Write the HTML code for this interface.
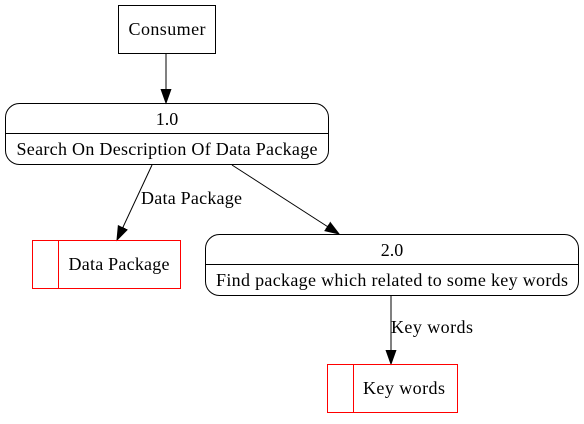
<!DOCTYPE html>
<html><head><style>body{margin:0;background:#fff}</style></head><body>
<svg width="584" height="419" xmlns="http://www.w3.org/2000/svg" font-family="Liberation Serif, serif" font-size="18">
<defs><marker id="a" markerWidth="16" markerHeight="12" refX="14" refY="6" orient="auto" markerUnits="userSpaceOnUse"><path d="M0,1 L14,6 L0,11z" fill="#000" stroke="#000"/></marker></defs>
<rect x="118.5" y="5.5" width="97" height="48" fill="none" stroke="#000"/>
<text x="167" y="35" text-anchor="middle" textLength="77">Consumer</text>
<line x1="166" y1="53" x2="166" y2="103" stroke="#000" marker-end="url(#a)"/>
<rect x="5.5" y="103.5" width="323" height="61" rx="14" fill="none" stroke="#000"/>
<line x1="5.5" y1="133.5" x2="328.5" y2="133.5" stroke="#000"/>
<text x="167" y="125" text-anchor="middle">1.0</text>
<text x="167" y="155" text-anchor="middle" textLength="301">Search On Description Of Data Package</text>
<line x1="152" y1="165" x2="117" y2="240" stroke="#000" marker-end="url(#a)"/>
<text x="141" y="204" textLength="101">Data Package</text>
<line x1="232" y1="165" x2="339" y2="234" stroke="#000" marker-end="url(#a)"/>
<rect x="32.5" y="240.5" width="148" height="48" fill="none" stroke="red"/>
<line x1="58.5" y1="240.5" x2="58.5" y2="288.5" stroke="red"/>
<text x="119" y="270" text-anchor="middle" textLength="101">Data Package</text>
<rect x="205.5" y="234.5" width="373" height="61" rx="14" fill="none" stroke="#000"/>
<line x1="205.5" y1="264.5" x2="578.5" y2="264.5" stroke="#000"/>
<text x="392" y="256" text-anchor="middle">2.0</text>
<text x="392" y="286" text-anchor="middle" textLength="352">Find package which related to some key words</text>
<line x1="391" y1="296" x2="391" y2="364" stroke="#000" marker-end="url(#a)"/>
<text x="391" y="333" textLength="82">Key words</text>
<rect x="327.5" y="364.5" width="130" height="48" fill="none" stroke="red"/>
<line x1="353.5" y1="364.5" x2="353.5" y2="412.5" stroke="red"/>
<text x="404" y="394" text-anchor="middle" textLength="82">Key words</text>
</svg>
</body></html>
